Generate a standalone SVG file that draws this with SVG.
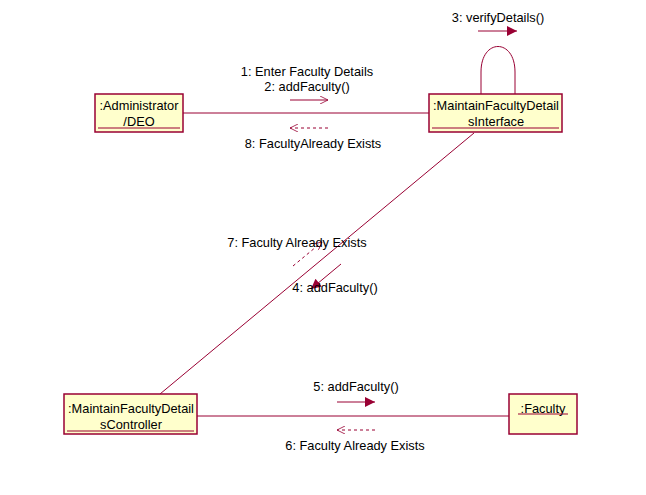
<svg xmlns="http://www.w3.org/2000/svg" width="646" height="495" viewBox="0 0 646 495">
<defs>
<style>
.box{fill:#FFFFCC;stroke:#990033;stroke-width:1.5}
.ln{stroke:#990033;stroke-width:1;fill:none}
.dash{stroke:#990033;stroke-width:1;fill:none;stroke-dasharray:3,3}
.ul{stroke:#990033;stroke-width:1.2}
text{font-family:"Liberation Sans",Arial,sans-serif;font-size:12.8px;fill:#000}
.c{text-anchor:middle}
</style>
<marker id="open" viewBox="0 0 10 10" refX="10" refY="5" markerWidth="12" markerHeight="8" markerUnits="userSpaceOnUse" orient="auto"><path d="M0,0 L10,5 L0,10" fill="none" stroke="#990033" stroke-width="1"/></marker>
<marker id="fill" viewBox="0 0 10 10" refX="10" refY="5" markerWidth="12" markerHeight="10" markerUnits="userSpaceOnUse" orient="auto"><path d="M0,0 L10,5 L0,10 Z" fill="#990033"/></marker>
</defs>
<rect width="646" height="495" fill="#fff"/>
<g id="connectors">
<line class="ln" x1="183" y1="113" x2="429" y2="113"/>
<line class="ln" x1="197" y1="416" x2="509" y2="416"/>
<line class="ln" x1="474" y1="133" x2="160" y2="394"/>
<path class="ln" d="M481,94 L481,72 C481,38 515,38 515,72 L515,94"/>
<line class="ln" x1="290" y1="100" x2="328" y2="100" marker-end="url(#open)"/>
<line class="dash" x1="328" y1="128" x2="290" y2="128" marker-end="url(#open)"/>
<line class="ln" x1="478" y1="31" x2="517" y2="31" marker-end="url(#fill)"/>
<line class="ln" x1="341" y1="264" x2="311" y2="289" marker-end="url(#fill)"/>
<line class="dash" x1="293" y1="266" x2="322" y2="242" marker-end="url(#open)"/>
<line class="ln" x1="337" y1="402" x2="375" y2="402" marker-end="url(#fill)"/>
<line class="dash" x1="375" y1="430" x2="337" y2="430" marker-end="url(#open)"/>
<text class="c" x="307" y="76">1: Enter Faculty Details</text>
<text class="c" x="307" y="91">2: addFaculty()</text>
<text class="c" x="313" y="148">8: FacultyAlready Exists</text>
<text class="c" x="498" y="22">3: verifyDetails()</text>
<text class="c" x="297" y="247">7: Faculty Already Exists</text>
<text class="c" x="335" y="292">4: addFaculty()</text>
<text class="c" x="356" y="391">5: addFaculty()</text>
<text class="c" x="355" y="450">6: Faculty Already Exists</text>
</g>
<g id="administrator">
<rect class="box" x="95" y="94" width="88" height="38"/>
<text class="c" x="139" y="110">:Administrator</text>
<text class="c" x="139" y="126">/DEO</text>
<line class="ul" x1="98" y1="128" x2="180" y2="128"/>
</g>
<g id="interface">
<rect class="box" x="429" y="94" width="133" height="38"/>
<text class="c" x="496" y="110">:MaintainFacultyDetail</text>
<text class="c" x="496" y="126">sInterface</text>
<line class="ul" x1="432" y1="128" x2="559" y2="128"/>
</g>
<g id="controller">
<rect class="box" x="64" y="394" width="133" height="40"/>
<text class="c" x="131" y="413">:MaintainFacultyDetail</text>
<text class="c" x="131" y="429">sController</text>
<line class="ul" x1="67" y1="431" x2="194" y2="431"/>
</g>
<g id="faculty">
<rect class="box" x="509" y="394" width="68" height="40"/>
<text class="c" x="543" y="413">:Faculty</text>
<line class="ul" x1="518" y1="414" x2="568" y2="414"/>
</g>
</svg>
